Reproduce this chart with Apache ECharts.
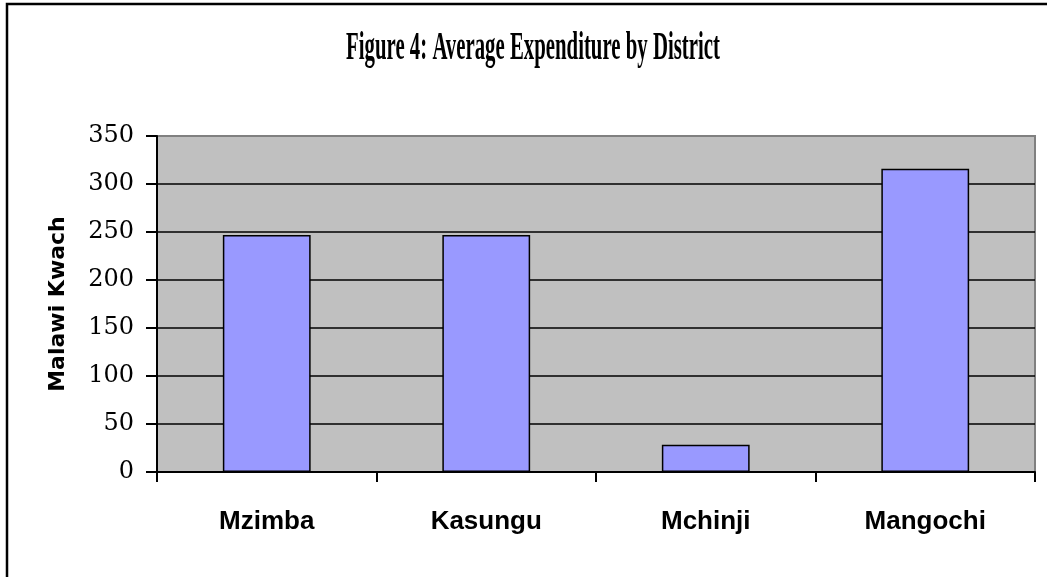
<!DOCTYPE html>
<html style="height: 100%">
<head>
    <meta charset="utf-8">
</head>
<body style="height: 100%; margin: 0; background: #fff">
    <div id="container" style="width: 1047px; height: 577px"></div>
    <script src="https://cdn.jsdelivr.net/npm/echarts@6/dist/echarts.min.js"></script>
    <script type="text/javascript">
        var districts = ['Mzimba', 'Kasungu', 'Mchinji', 'Mangochi'];
        var expenditure = [247, 247, 28.5, 316];
        var yTicks = [0, 50, 100, 150, 200, 250, 300, 350];
        var titleText = 'Figure 4: Average Expenditure by District';
        var yName = 'Malawi Kwach';

        var myChart = echarts.init(document.getElementById('container'));
        var option = {
            animation: false,
            backgroundColor: '#fff',
            graphic: [
                {
                    type: 'rect',
                    shape: { x: 7, y: 4, width: 1100, height: 700 },
                    style: { fill: 'none', stroke: '#000', lineWidth: 2.5 },
                    z: 10
                },
                {
                    type: 'text',
                    x: 533,
                    y: 49,
                    scaleX: 0.52,
                    style: {
                        text: titleText,
                        font: 'bold 40px "Liberation Serif"',
                        fill: '#000',
                        textAlign: 'center',
                        textVerticalAlign: 'middle'
                    }
                }
            ],
            grid: {
                left: 157,
                right: 12,
                top: 136,
                bottom: 105,
                show: true,
                backgroundColor: '#c0c0c0',
                borderColor: '#808080',
                borderWidth: 2
            },
            xAxis: {
                type: 'category',
                data: districts,
                axisLine: { lineStyle: { color: '#000', width: 2 } },
                axisTick: { show: true, length: 10, lineStyle: { color: '#000', width: 2 } },
                axisLabel: {
                    margin: 37,
                    color: '#000',
                    fontFamily: 'Liberation Sans',
                    fontWeight: 'bold',
                    fontSize: 26
                }
            },
            yAxis: {
                type: 'value',
                min: yTicks[0],
                max: yTicks[yTicks.length - 1],
                interval: yTicks[1] - yTicks[0],
                name: yName,
                nameLocation: 'middle',
                nameRotate: 90,
                nameGap: 88,
                nameTextStyle: {
                    color: '#000',
                    fontFamily: 'DejaVu Sans',
                    fontWeight: 'bold',
                    fontSize: 22
                },
                axisLine: { show: true, lineStyle: { color: '#000', width: 2 } },
                axisTick: { show: true, length: 11, lineStyle: { color: '#000', width: 2 } },
                axisLabel: {
                    margin: 23,
                    color: '#000',
                    fontFamily: 'DejaVu Serif',
                    fontSize: 24
                },
                splitLine: {
                    show: true,
                    showMaxLine: false,
                    lineStyle: { color: '#000', width: 1.5 }
                }
            },
            series: [{
                type: 'bar',
                data: expenditure,
                barWidth: '40%',
                itemStyle: {
                    color: '#9999ff',
                    borderColor: '#000',
                    borderWidth: 1.5
                }
            }]
        };
        myChart.setOption(option);
    </script>
</body>
</html>
